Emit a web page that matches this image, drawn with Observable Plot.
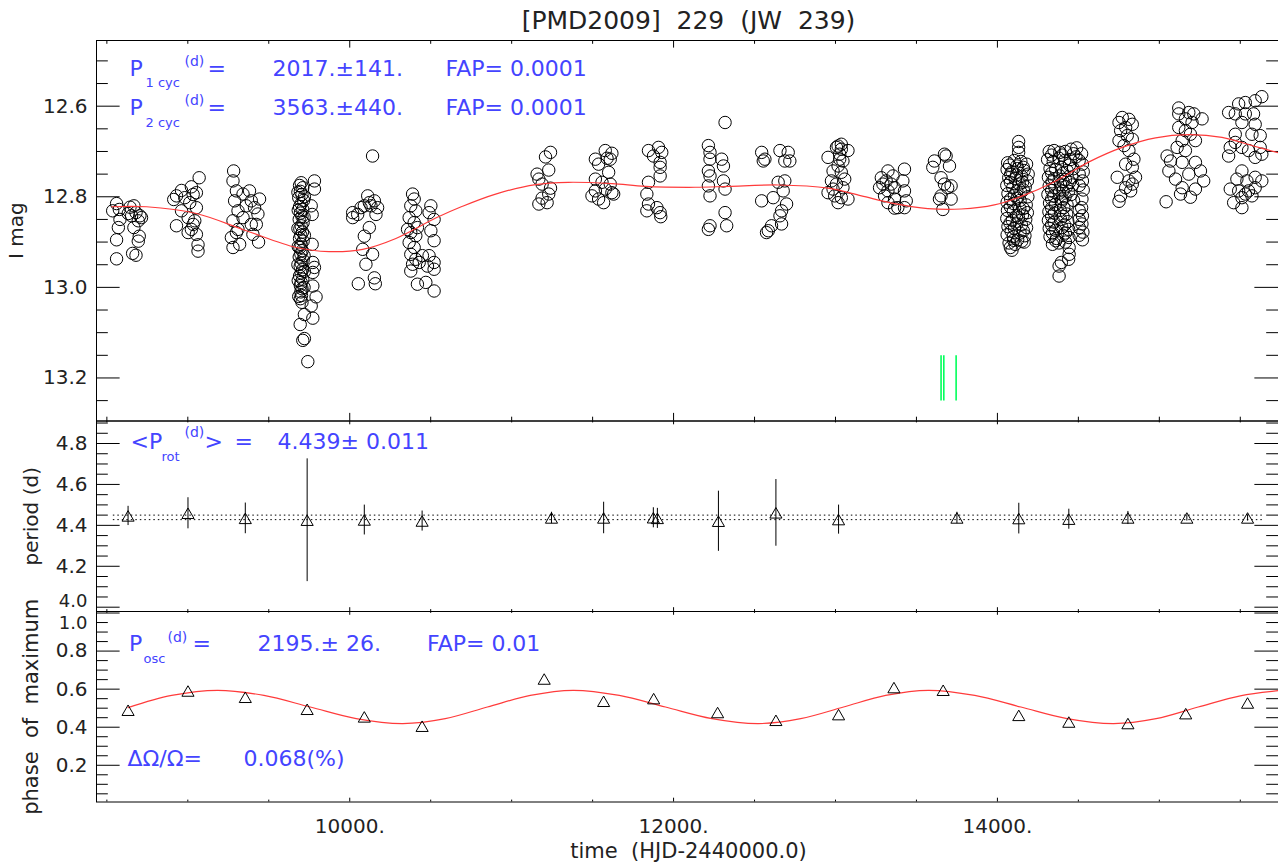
<!DOCTYPE html>
<html><head><meta charset="utf-8">
<script src="https://cdn.jsdelivr.net/npm/d3@7"></script>
<script src="https://cdn.jsdelivr.net/npm/@observablehq/plot@0.6"></script>
<style>
html,body{margin:0;padding:0;background:#fff;}
#chart{position:relative;width:1278px;height:867px;overflow:hidden;background:#fff;}
#chart svg{position:absolute;left:0;top:0;}
</style></head><body><div id="chart"></div>
<script>
// ---------- data ----------
const title = "[PMD2009]\u00a0 229\u00a0 (JW\u00a0 239)";
const xDomain = [8436, 15736];
const xMajorTicks = [10000, 12000, 14000];
const xMinorTicks = [8500, 9000, 9500, 10500, 11000, 11500, 12500, 13000, 13500, 14500, 15000, 15500];
const magDomain = [12.455, 13.295];
const magMajor = [12.6, 12.8, 13.0, 13.2];
const magMinor = [12.5, 12.55, 12.65, 12.7, 12.75, 12.85, 12.9, 12.95, 13.05, 13.1, 13.15, 13.25];
const periodDomain = [3.979, 4.91];
const periodMajor = [4.0, 4.2, 4.4, 4.6, 4.8];
const periodMinor = [4.05, 4.1, 4.15, 4.25, 4.3, 4.35, 4.45, 4.5, 4.55, 4.65, 4.7, 4.75, 4.85, 4.9];
const phaseDomain = [0.007, 1.008];
const phaseMajor = [0.2, 0.4, 0.6, 0.8, 1.0];
const phaseMinor = [0.05, 0.1, 0.15, 0.25, 0.3, 0.35, 0.45, 0.5, 0.55, 0.65, 0.7, 0.75, 0.85, 0.9, 0.95];

// photometry per season: [HJD-2440000, I mag]
const s01 = [[8560,12.815],[8536,12.831],[8577,12.828],[8581,12.850],[8571,12.868],[8560,12.895],[8560,12.937],[8643,12.823],[8667,12.820],[8680,12.835],[8704,12.842],[8653,12.842],[8694,12.853],[8667,12.868],[8700,12.887],[8694,12.898],[8659,12.925],[8680,12.929],[8632,12.837],[8714,12.846]];
const s02 = [[8930,12.798],[8961,12.786],[8913,12.806],[9022,12.778],[9033,12.795],[9070,12.758],[9012,12.813],[8961,12.831],[8930,12.864],[9002,12.846],[9043,12.853],[9002,12.879],[9053,12.883],[9063,12.906],[9063,12.920],[9033,12.861],[9053,12.824],[9022,12.872],[9053,12.791],[8981,12.802]];
const s03 = [[9283,12.743],[9279,12.765],[9300,12.787],[9289,12.809],[9310,12.831],[9279,12.853],[9300,12.879],[9279,12.912],[9320,12.905],[9341,12.794],[9381,12.787],[9392,12.809],[9412,12.824],[9443,12.805],[9433,12.838],[9392,12.861],[9402,12.883],[9437,12.900],[9361,12.820],[9341,12.846],[9269,12.890],[9310,12.872],[9423,12.861]];
const s04 = [[9700,12.769],[9690,12.775],[9710,12.780],[9695,12.788],[9705,12.795],[9685,12.802],[9715,12.808],[9700,12.815],[9690,12.822],[9710,12.828],[9695,12.836],[9705,12.843],[9688,12.850],[9712,12.857],[9700,12.864],[9692,12.871],[9708,12.878],[9698,12.885],[9690,12.892],[9712,12.898],[9700,12.905],[9692,12.912],[9706,12.919],[9698,12.926],[9688,12.933],[9712,12.940],[9700,12.947],[9694,12.954],[9708,12.961],[9700,12.968],[9690,12.975],[9710,12.982],[9700,12.989],[9695,12.996],[9705,13.003],[9698,13.010],[9702,13.018],[9695,13.025],[9705,13.033],
  [9680,12.790],[9720,12.800],[9682,12.830],[9718,12.845],[9680,12.870],[9720,12.885],[9682,12.910],[9718,12.930],[9680,12.950],[9720,12.965],[9682,12.985],[9718,13.000],[9685,13.020],
  [9782,12.765],[9782,12.783],[9762,12.820],[9768,12.839],[9768,12.905],[9772,12.945],[9782,12.956],[9772,12.967],[9772,12.997],[9792,13.021],[9762,13.041],[9772,13.068],[9694,13.082],[9720,13.060],[9720,13.113],[9710,13.117],[9741,13.164]];
const s05 = [[10141,12.710],[10018,12.846],[10049,12.839],[10070,12.824],[10090,12.820],[10111,12.798],[10121,12.813],[10152,12.809],[10172,12.824],[10162,12.839],[10121,12.868],[10090,12.887],[10080,12.916],[10141,12.927],[10100,12.949],[10053,12.992],[10152,12.979],[10158,12.992],[10131,12.820],[10018,12.835]];
const s06 = [[10388,12.794],[10398,12.805],[10377,12.820],[10408,12.831],[10367,12.846],[10398,12.857],[10418,12.868],[10377,12.879],[10408,12.886],[10367,12.901],[10398,12.912],[10377,12.927],[10408,12.938],[10388,12.949],[10377,12.964],[10418,12.993],[10470,12.989],[10521,13.008],[10501,12.820],[10490,12.835],[10521,12.850],[10501,12.875],[10521,12.897],[10490,12.930],[10521,12.945],[10480,12.953],[10521,12.960],[10449,12.930],[10429,12.945],[10357,12.872]];
const s07 = [[11240,12.702],[11209,12.712],[11229,12.741],[11157,12.750],[11168,12.761],[11188,12.772],[11240,12.781],[11229,12.794],[11188,12.803],[11168,12.816],[11219,12.813]];
const s08 = [[11517,12.717],[11537,12.728],[11578,12.698],[11619,12.704],[11609,12.717],[11599,12.746],[11517,12.761],[11558,12.768],[11609,12.772],[11578,12.783],[11619,12.791],[11517,12.787],[11537,12.805],[11568,12.813],[11630,12.794],[11496,12.798],[11589,12.715]];
const s09 = [[11845,12.698],[11907,12.691],[11927,12.702],[11876,12.710],[11917,12.724],[11917,12.735],[11917,12.754],[11845,12.768],[11835,12.794],[11845,12.816],[11835,12.831],[11897,12.824],[11917,12.835],[11921,12.844]];
const s10 = [[12318,12.636],[12215,12.687],[12225,12.702],[12225,12.717],[12297,12.717],[12308,12.732],[12215,12.743],[12225,12.754],[12308,12.765],[12318,12.783],[12215,12.776],[12225,12.798],[12318,12.835],[12328,12.864],[12225,12.864],[12215,12.872]];
const s11 = [[12544,12.702],[12564,12.717],[12554,12.721],[12657,12.698],[12708,12.702],[12687,12.721],[12718,12.721],[12646,12.768],[12687,12.765],[12677,12.787],[12544,12.809],[12615,12.802],[12698,12.816],[12667,12.831],[12657,12.842],[12667,12.860],[12605,12.864],[12585,12.875],[12574,12.879]];
const s12 = [[12954,12.713],[13016,12.688],[13036,12.695],[13077,12.698],[13026,12.706],[13046,12.721],[13016,12.732],[12985,12.743],[13036,12.746],[13057,12.761],[12975,12.765],[13006,12.772],[13046,12.780],[12954,12.791],[12995,12.798],[13036,12.802],[13077,12.805],[13016,12.813],[12985,12.783],[13036,12.684],[13026,12.717],[13006,12.691]];
const s13 = [[13324,12.743],[13283,12.758],[13313,12.765],[13355,12.754],[13426,12.739],[13416,12.765],[13272,12.780],[13324,12.787],[13365,12.780],[13426,12.787],[13303,12.798],[13365,12.805],[13437,12.809],[13324,12.813],[13385,12.824],[13426,12.824],[13293,12.772],[13344,12.772],[13365,12.825]];
const s14 = [[13611,12.721],[13673,12.706],[13704,12.732],[13601,12.735],[13652,12.758],[13673,12.772],[13714,12.776],[13652,12.798],[13642,12.805],[13714,12.805],[13663,12.828],[13683,12.710],[13693,12.780]];
const s15 = [[14131,12.678],[14131,12.691],[14131,12.702],
  [14063,12.725],[14104,12.720],[14145,12.722],[14180,12.728],
  [14060,12.740],[14090,12.745],[14125,12.738],[14165,12.742],[14190,12.750],
  [14070,12.758],[14110,12.760],[14150,12.755],[14185,12.765],
  [14058,12.775],[14095,12.780],[14135,12.772],[14172,12.778],
  [14065,12.793],[14105,12.797],[14145,12.790],[14188,12.800],
  [14060,12.812],[14100,12.815],[14140,12.808],[14178,12.818],
  [14062,12.830],[14098,12.832],[14138,12.826],[14185,12.835],
  [14058,12.848],[14092,12.852],[14130,12.846],[14175,12.850],
  [14065,12.866],[14105,12.870],[14148,12.862],[14180,12.868],
  [14060,12.884],[14098,12.888],[14140,12.880],[14170,12.886],
  [14072,12.902],[14110,12.905],[14150,12.898],[14080,12.912],[14090,12.918],
  [14075,12.730],[14120,12.732],[14160,12.735],[14082,12.750],[14118,12.752],[14155,12.768],[14080,12.768],[14120,12.787],[14160,12.785],[14082,12.805],[14122,12.803],[14160,12.826],[14080,12.822],[14118,12.842],[14155,12.840],[14078,12.858],[14120,12.860],[14160,12.875],[14085,12.876],[14125,12.895],[14165,12.900],[14100,12.896]];
const s16 = [[14320,12.700],[14350,12.698],[14385,12.702],[14420,12.700],[14455,12.695],[14490,12.692],[14520,12.705],
  [14310,12.718],[14345,12.722],[14380,12.715],[14415,12.720],[14450,12.718],[14485,12.712],[14525,12.728],
  [14325,12.738],[14360,12.740],[14395,12.735],[14430,12.742],[14470,12.738],[14530,12.745],
  [14315,12.757],[14350,12.760],[14385,12.754],[14420,12.762],[14460,12.757],[14525,12.765],
  [14320,12.776],[14355,12.780],[14390,12.773],[14425,12.778],[14465,12.774],[14530,12.785],
  [14312,12.795],[14348,12.798],[14382,12.792],[14418,12.800],[14455,12.795],[14522,12.805],
  [14322,12.814],[14358,12.817],[14395,12.810],[14430,12.818],[14520,12.824],
  [14318,12.833],[14352,12.836],[14388,12.830],[14428,12.838],[14525,12.842],
  [14315,12.852],[14350,12.856],[14390,12.850],[14435,12.855],[14522,12.860],
  [14320,12.870],[14360,12.874],[14398,12.868],[14440,12.872],[14528,12.878],
  [14325,12.888],[14365,12.892],[14405,12.885],[14442,12.890],[14525,12.895],
  [14340,12.905],[14380,12.902],[14443,12.912],[14443,12.927],[14440,12.938],[14381,12.953],[14381,12.975],[14395,12.945],
  [14335,12.708],[14400,12.708],[14470,12.705],[14505,12.720],[14335,12.748],[14405,12.748],[14445,12.730],[14505,12.750],[14338,12.767],[14405,12.766],[14445,12.768],[14505,12.775],[14335,12.786],[14405,12.787],[14440,12.788],[14335,12.805],[14400,12.805],[14470,12.808],[14335,12.825],[14410,12.824],[14505,12.830],[14335,12.843],[14405,12.843],[14505,12.850],[14335,12.862],[14415,12.862],[14505,12.868],[14340,12.880],[14420,12.880],[14505,12.885],[14360,12.897],[14420,12.900]];
const s17 = [[14771,12.625],[14812,12.629],[14751,12.636],[14792,12.647],[14833,12.640],[14761,12.654],[14802,12.665],[14751,12.676],[14833,12.673],[14782,12.687],[14812,12.698],[14843,12.717],[14792,12.728],[14833,12.735],[14740,12.757],[14853,12.757],[14812,12.765],[14792,12.780],[14823,12.787],[14761,12.798],[14751,12.810],[14833,12.772]];
const s18 = [[15120,12.604],[15182,12.614],[15213,12.617],[15120,12.617],[15161,12.628],[15264,12.628],[15202,12.636],[15120,12.647],[15161,12.654],[15192,12.662],[15223,12.676],[15141,12.676],[15110,12.691],[15161,12.698],[15048,12.710],[15069,12.721],[15141,12.724],[15223,12.724],[15059,12.743],[15254,12.743],[15182,12.750],[15100,12.761],[15274,12.765],[15141,12.780],[15223,12.783],[15131,12.794],[15192,12.801],[15042,12.811]];
const s19 = [[15428,12.614],[15490,12.595],[15531,12.592],[15592,12.588],[15633,12.579],[15469,12.617],[15531,12.617],[15582,12.617],[15510,12.636],[15592,12.640],[15469,12.662],[15572,12.662],[15623,12.665],[15469,12.680],[15510,12.691],[15438,12.691],[15428,12.710],[15551,12.698],[15623,12.691],[15592,12.713],[15633,12.706],[15510,12.743],[15479,12.761],[15541,12.765],[15592,12.757],[15633,12.765],[15438,12.783],[15490,12.787],[15551,12.787],[15592,12.780],[15572,12.798],[15510,12.802],[15459,12.813],[15510,12.824],[15531,12.794]];

// two-cycle fit
const cycleFit = [[8530,12.822],[8745,12.822],[9053,12.837],[9361,12.875],[9669,12.912],[9872,12.921],[10080,12.916],[10285,12.892],[10531,12.847],[10696,12.821],[10901,12.794],[11148,12.773],[11351,12.768],[11620,12.771],[11825,12.777],[12133,12.779],[12338,12.777],[12646,12.774],[12954,12.781],[13160,12.798],[13365,12.815],[13570,12.826],[13776,12.827],[13981,12.818],[14155,12.798],[14361,12.765],[14566,12.723],[14771,12.691],[14977,12.670],[15182,12.663],[15387,12.669],[15593,12.689],[15736,12.703]];
// green markers
const greenT = [13652, 13669, 13745];
const greenTop = [13.151, 13.151, 13.151];
const greenBottom = [13.251, 13.251, 13.251];

// rotation periods
const pTimes  = [8631, 9001, 9355, 9737, 10090, 10447, 11246, 11568, 11875, 11900, 12277, 12632, 13019, 13750, 14132, 14441, 14806, 15170, 15545];
const pValues = [4.446, 4.459, 4.434, 4.425, 4.426, 4.421, 4.436, 4.436, 4.437, 4.434, 4.420, 4.461, 4.428, 4.436, 4.433, 4.430, 4.436, 4.436, 4.436];
const pErrors = [0.047, 0.076, 0.075, 0.300, 0.073, 0.049, 0.028, 0.077, 0.049, 0.049, 0.147, 0.163, 0.071, 0.028, 0.075, 0.049, 0.032, 0.015, 0.015];
const pMean = 4.439, pMeanErr = 0.011;
const meanSpan = [8540, 15640];

// phase of maximum
const phTimes  = [8631, 9001, 9355, 9737, 10090, 10447, 11201, 11568, 11877, 12272, 12632, 13019, 13361, 13665, 14132, 14441, 14806, 15163, 15545];
const phValues = [0.489, 0.590, 0.557, 0.494, 0.454, 0.405, 0.653, 0.536, 0.550, 0.477, 0.436, 0.466, 0.608, 0.594, 0.462, 0.427, 0.419, 0.471, 0.527];
const phaseFit = [[8631,0.503],[8900,0.567],[9184,0.594],[9470,0.567],[9756,0.506],[10040,0.445],[10328,0.419],[10590,0.445],[10850,0.506],[11115,0.567],[11379,0.594],[11665,0.567],[11950,0.506],[12237,0.445],[12523,0.419],[12785,0.445],[13050,0.506],[13310,0.567],[13574,0.594],[13860,0.567],[14145,0.506],[14430,0.445],[14718,0.419],[14980,0.445],[15240,0.506],[15500,0.565],[15736,0.592]];

// ---------- layout & style ----------
const W = 1278, H = 867, ML = 96, MR = 0, FW = W - ML - MR;
const FONT = "'DejaVu Sans', sans-serif";
const BLUE = "#4444ff", RED = "#ff3b3b", GREEN = "#00ff5a", INK = "#222";

const photometry = [s01,s02,s03,s04,s05,s06,s07,s08,s09,s10,s11,s12,s13,s14,s15,s16,s17,s18,s19].flat();
const periods = pTimes.map((t,i) => ({t, p: pValues[i], e: pErrors[i]}));
const phases = phTimes.map((t,i) => ({t, ph: phValues[i]}));
const greens = greenT.map((t,i) => ({t, y1: greenTop[i], y2: greenBottom[i]}));

function tickLabels(values, dy = 0, size = 20) {
  return Plot.text(values, {y: d => d, text: d => d.toFixed(1), frameAnchor: "left", dx: -9, dy, textAnchor: "end", fontSize: size, fill: INK, fontFamily: FONT});
}
function frameMarks(yMajor, yMinor, fh, edge) {
  const yl = 0.02 * FW, xl = 0.02 * fh;
  const s = {stroke: "black", strokeWidth: 1};
  const plain = edge ? yMajor.filter(v => v !== edge.value) : yMajor;
  return [
    Plot.frame({stroke: "black", strokeWidth: 1}),
    Plot.ruleY(yMajor, {...s, insetRight: FW - yl}),
    Plot.ruleY(yMajor, {...s, insetLeft: FW - yl}),
    Plot.ruleY(yMinor, {...s, insetRight: FW - yl / 2}),
    Plot.ruleY(yMinor, {...s, insetLeft: FW - yl / 2}),
    Plot.ruleX(xMajorTicks, {...s, insetBottom: fh - xl}),
    Plot.ruleX(xMajorTicks, {...s, insetTop: fh - xl}),
    Plot.ruleX(xMinorTicks, {...s, insetBottom: fh - xl / 2}),
    Plot.ruleX(xMinorTicks, {...s, insetTop: fh - xl / 2}),
    tickLabels(plain),
    ...(edge ? [tickLabels([edge.value], edge.dy, 18)] : [])
  ];
}
function note(txt, dx, dy, size, fill = BLUE) {
  return Plot.text([txt], {text: d => d, frameAnchor: "top-left", dx, dy, fontSize: size, fill, fontFamily: FONT, textAnchor: "start", lineAnchor: "bottom"});
}
function yTitle(txt, dx, size = 20) {
  return Plot.text([txt], {text: d => d, frameAnchor: "left", dx, rotate: -90, fontSize: size, fill: INK, fontFamily: FONT, textAnchor: "middle", lineAnchor: "bottom"});
}
function base(top, bottom) {
  return {width: W, height: H, marginLeft: ML, marginRight: MR, marginTop: top, marginBottom: H - bottom,
    style: {background: "transparent", fontFamily: FONT, overflow: "visible"}};
}

// ---------- panel 1: light curve ----------
const p1 = Plot.plot({
  ...base(40, 420.5),
  x: {domain: xDomain, axis: null},
  y: {domain: magDomain, reverse: true, axis: null},
  marks: [
    ...frameMarks(magMajor, magMinor, 380.5),
    Plot.dot(photometry, {x: d => d[0], y: d => d[1], r: 6.2, stroke: "black", strokeWidth: 1, fill: "none"}),
    Plot.line(cycleFit, {x: d => d[0], y: d => d[1], stroke: RED, strokeWidth: 1.2, curve: "catmull-rom"}),
    Plot.ruleX(greens, {x: "t", y1: "y1", y2: "y2", stroke: GREEN, strokeWidth: 1.6}),
    Plot.text([title], {text: d => d, frameAnchor: "top", dx: 1, dy: -11.7, fontSize: 25, fill: INK, fontFamily: FONT, lineAnchor: "bottom"}),
    yTitle("I mag", -73.5),
    note("P", 33, 35, 22), note("1 cyc", 49, 46, 13), note("(d)", 88, 25, 14), note("=", 111, 35, 22),
    note("2017.\u00b1141.", 176, 35, 22), note("FAP= 0.0001", 349, 35, 22),
    note("P", 33, 74, 22), note("2 cyc", 49, 86, 13), note("(d)", 88, 64, 14), note("=", 111, 74, 22),
    note("3563.\u00b1440.", 176, 74, 22), note("FAP= 0.0001", 349, 74, 22)
  ]
});

// ---------- panel 2: period ----------
const p2 = Plot.plot({
  ...base(420.5, 611),
  x: {domain: xDomain, axis: null},
  y: {domain: periodDomain, axis: null},
  marks: [
    ...frameMarks(periodMajor, periodMinor, 190.5, {value: 4.0, dy: -6}),
    Plot.ruleY([pMean - pMeanErr, pMean + pMeanErr], {x1: meanSpan[0], x2: meanSpan[1], stroke: "black", strokeWidth: 1, strokeDasharray: "1.5,3"}),
    Plot.ruleX(periods, {x: "t", y1: d => d.p - d.e, y2: d => d.p + d.e, stroke: "black", strokeWidth: 1}),
    Plot.dot(periods, {x: "t", y: "p", symbol: "triangle", r: 4.5, stroke: "black", strokeWidth: 1, fill: "none", dy: 1.7}),
    yTitle("period (d)", -58.5),
    note("<P", 34, 27.5, 22), note("rot", 65, 39.5, 13), note("(d)", 88, 16, 14), note(">", 108, 27.5, 22),
    note("=", 138, 27.5, 22), note("4.439\u00b1 0.011", 181, 27.5, 22)
  ]
});

// ---------- panel 3: phase of maximum ----------
const p3 = Plot.plot({
  ...base(611, 801.5),
  x: {domain: xDomain},
  y: {domain: phaseDomain, axis: null},
  marks: [
    ...frameMarks(phaseMajor, phaseMinor, 190.5, {value: 1.0, dy: 10}),
    Plot.axisX(xMajorTicks, {anchor: "bottom", tickSize: 0, tickPadding: 17, tickFormat: d => d + ".", fontSize: 20, fontFamily: FONT, label: null, fill: INK}),
    Plot.line(phaseFit, {x: d => d[0], y: d => d[1], stroke: RED, strokeWidth: 1.2, curve: "catmull-rom"}),
    Plot.dot(phases, {x: "t", y: "ph", symbol: "triangle", r: 4.5, stroke: "black", strokeWidth: 1, fill: "none", dy: 1.7}),
    yTitle("phase\u00a0 of\u00a0 maximum", -58.5, 21),
    Plot.text(["time\u00a0 (HJD-2440000.0)"], {text: d => d, frameAnchor: "bottom", dx: 1, dy: 55.5, fontSize: 21, fill: INK, fontFamily: FONT, lineAnchor: "bottom"}),
    note("P", 32.6, 39, 22), note("osc", 47, 51, 13), note("(d)", 71, 30, 14), note("=", 96, 39, 22),
    note("2195.\u00b1 26.", 161, 39, 22), note("FAP= 0.01", 330.5, 39, 22),
    note("\u0394\u03a9/\u03a9=", 31, 154, 22), note("0.068(%)", 147, 154, 22)
  ]
});

const chart = document.getElementById("chart");
chart.append(p1, p2, p3);
</script></body></html>
